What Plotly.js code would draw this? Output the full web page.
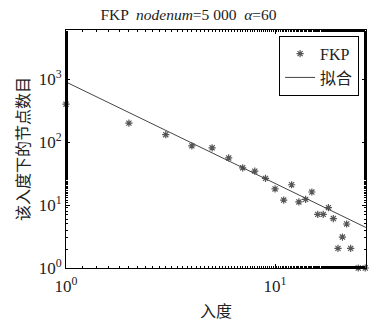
<!DOCTYPE html>
<html><head><meta charset="utf-8">
<script src="https://cdn.plot.ly/plotly-3.0.1.min.js"></script>
<style>html,body{margin:0;padding:0;background:#fff}#c{width:377px;height:328px}</style>
</head><body><div id="c"></div>
<script>
const degree = [1,2,3,4,5,6,7,8,9,10,11,12,13,14,15,16,17,18,19,20,21,22,23,25,27];
const count  = [400,200,131,87,81,56,39,34.6,26.5,18,12,21,11.2,12.3,16.1,7.1,7.1,9.1,6.1,2.05,3.1,5.0,2.05,1,1];
const fitX = [1, 27.2];
const fitY = [900, 4.4];
const tickVals = [1, 10];
const tickText = ['10<sup>0</sup>', '10<sup>1</sup>'];
const yTickVals = [1, 10, 100, 1000];
const yTickText = ['10<sup>0</sup>', '10<sup>1</sup>', '10<sup>2</sup>', '10<sup>3</sup>'];

const fontFam = '"Liberation Serif", "Noto Sans CJK SC", serif';
const data = [
  {x: degree, y: count, mode: 'markers', type: 'scatter', name: 'FKP', cliponaxis: false,
   marker: {symbol: 'asterisk-open', size: 6, color: '#555', line: {width: 1.2, color: '#555'}}},
  {x: fitX, y: fitY, mode: 'lines', type: 'scatter', name: '拟合',
   line: {color: '#444', width: 1}}
];
const axisCommon = {
  type: 'log', showline: true, linecolor: '#000', linewidth: 1, mirror: 'ticks',
  ticks: 'inside', ticklen: 4, tickcolor: '#000', showgrid: false, zeroline: false,
  minor: {ticks: 'inside', ticklen: 2, tickcolor: '#000', showgrid: false},
  tickfont: {family: fontFam, size: 17, color: '#222'}
};
const layout = {
  width: 377, height: 328,
  margin: {l: 66, r: 11, t: 30, b: 60},
  paper_bgcolor: '#fff', plot_bgcolor: '#fff',
  font: {family: fontFam, color: '#222'},
  title: {text: 'FKP  <i>nodenum</i>=5 000  <i>α</i>=60', font: {family: fontFam, size: 15.5, color: '#222'},
          x: 0.5, xanchor: 'center', y: 0.955, yanchor: 'middle'},
  xaxis: Object.assign({}, axisCommon, {range: [0, 1.435], tickvals: tickVals, ticktext: tickText,
          ticklabelstandoff: 3,
          title: {text: '入度', font: {family: fontFam, size: 16, color: '#222'}, standoff: 10}}),
  yaxis: Object.assign({}, axisCommon, {range: [0, 3.78], tickvals: yTickVals, ticktext: yTickText,
          title: {text: '该入度下的节点数目', font: {family: fontFam, size: 16, color: '#222'}, standoff: 5}}),
  showlegend: true,
  legend: {x: 0.977, y: 0.976, xanchor: 'right', yanchor: 'top', bgcolor: '#fff',
           bordercolor: '#000', borderwidth: 1, font: {family: fontFam, size: 16, color: '#222'},
           tracegroupgap: 0, itemwidth: 30}
};
Plotly.newPlot('c', data, layout, {displayModeBar: false, staticPlot: true});
</script>
</body></html>
